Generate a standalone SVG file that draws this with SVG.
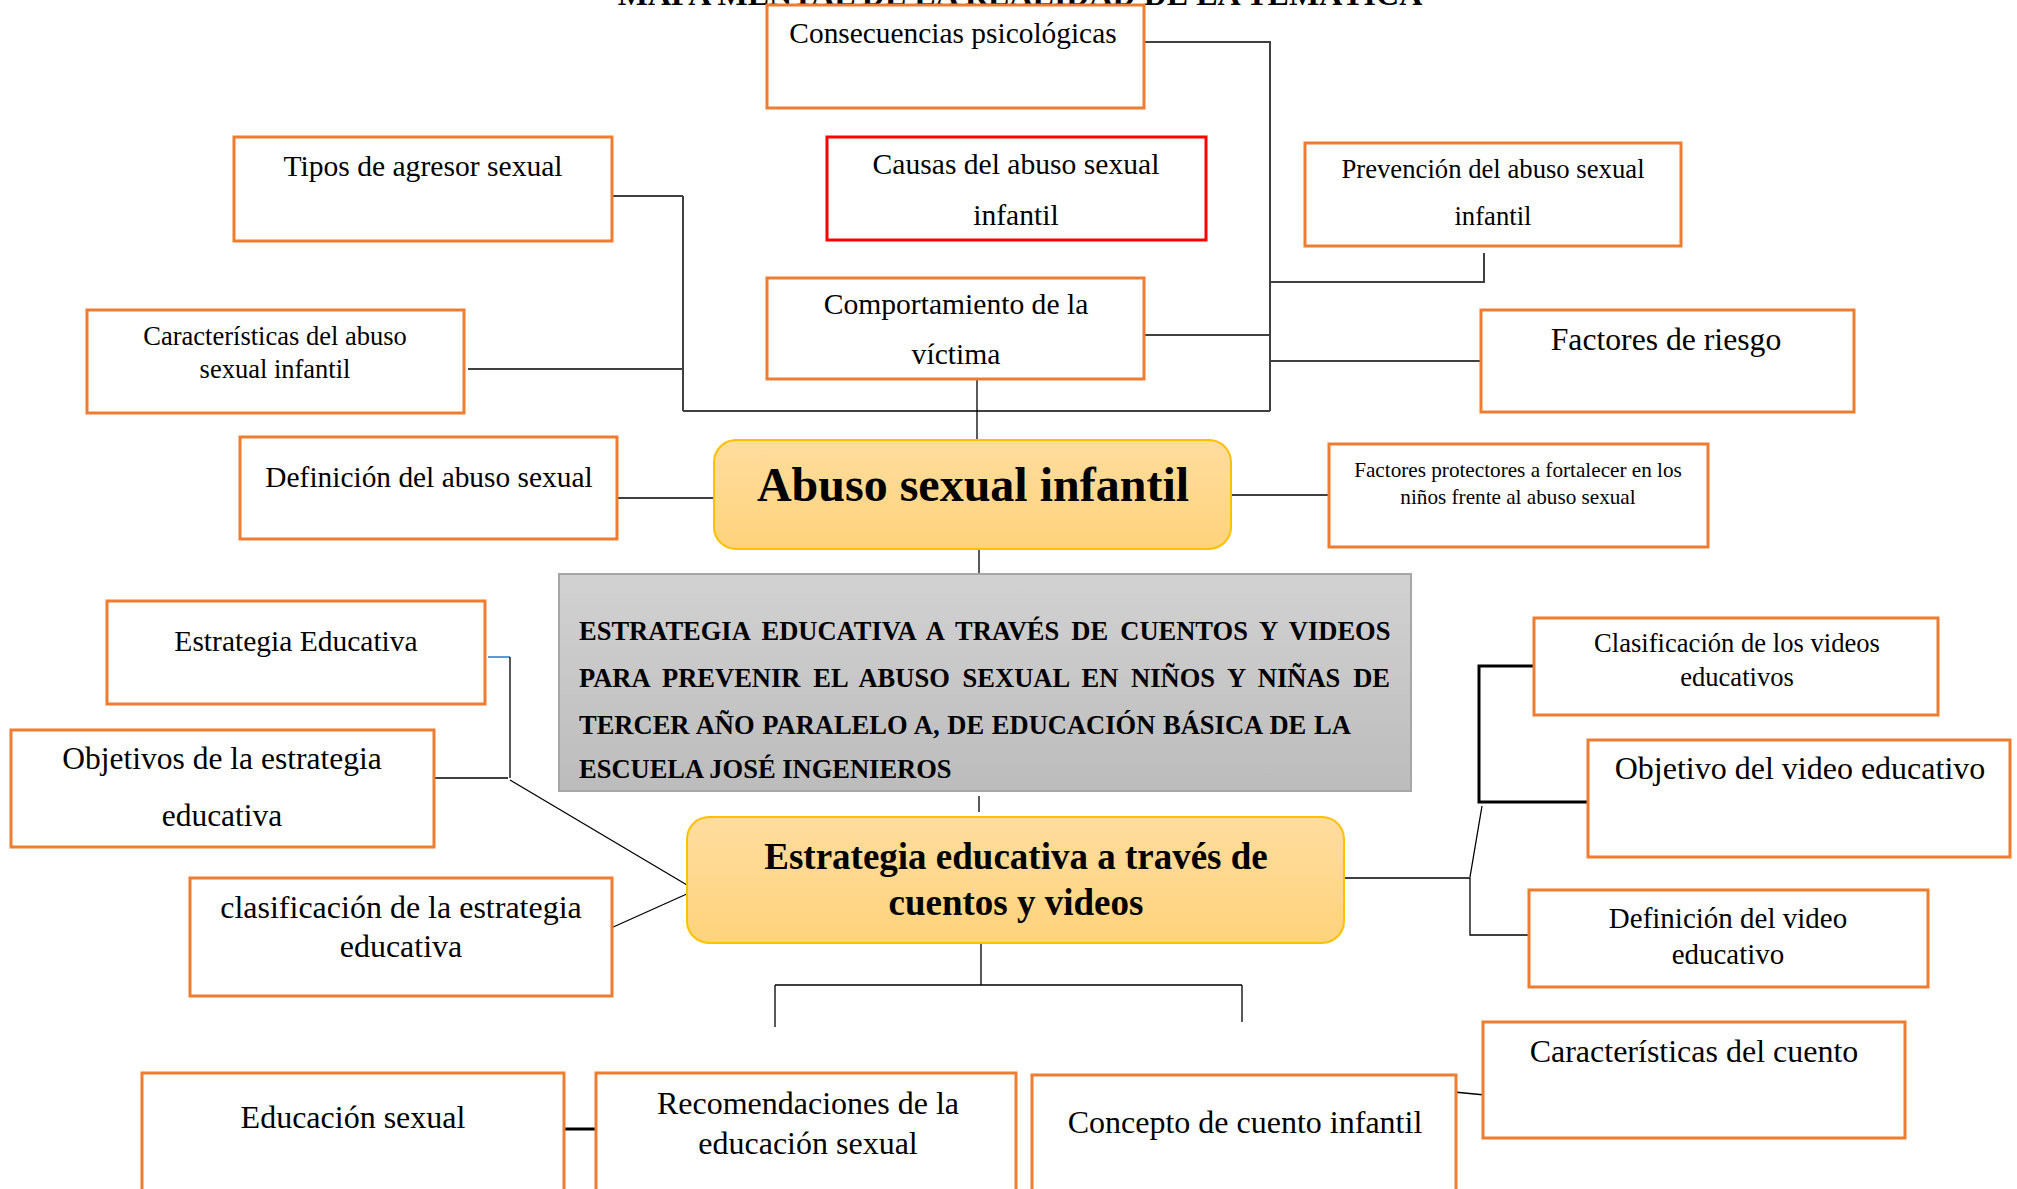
<svg xmlns="http://www.w3.org/2000/svg" width="2017" height="1189" viewBox="0 0 2017 1189">
<defs>
<linearGradient id="gOr" x1="0" y1="0" x2="0" y2="1">
<stop offset="0" stop-color="#FFDD9E"/>
<stop offset="1" stop-color="#FFD37C"/>
</linearGradient>
<linearGradient id="gGr" x1="0" y1="0" x2="0" y2="1">
<stop offset="0" stop-color="#D2D2D2"/>
<stop offset="1" stop-color="#BCBCBC"/>
</linearGradient>
<style>
.box{fill:#FFFFFF;stroke:#ED7D31;stroke-width:3}
.red{fill:#FFFFFF;stroke:#FF0000;stroke-width:3}
.main{fill:url(#gOr);stroke:#FFC000;stroke-width:2}
.gray{fill:url(#gGr);stroke:#A6A6A6;stroke-width:2}
text{font-family:"Liberation Serif","Times New Roman",serif;fill:#000000}
.t{text-anchor:middle}
.b{font-weight:bold}
.ln{fill:none;stroke:#404040;stroke-width:2}
.thin{fill:none;stroke:#000000;stroke-width:1.3}
.thick{fill:none;stroke:#000000;stroke-width:3}
</style>
</defs>
<rect width="2017" height="1189" fill="#FFFFFF"/>

<g id="connectors">
<path class="ln" d="M612,196 H683 M683,196 V411 M468,369 H683 M683,411 H1270"/>
<path class="thin" d="M977,379 V440"/>
<path class="ln" d="M1144,42 H1270 V411 M1144,335 H1270 M1270,282 H1484 V253 M1270,361 H1481"/>
<path class="ln" d="M617,498 H714 M1231,495 H1329"/>
<path class="thin" d="M979,549 V574 M979,796 V812"/>
<path fill="none" stroke="#5B9BD5" stroke-width="2" d="M488,657 H510"/>
<path class="thin" d="M510,657 V778"/>
<path class="ln" d="M434,778 H508"/>
<path class="thin" d="M510,780 L687,885 M611,928 L689,893"/>
<path class="thin" d="M1344,878 H1470 V935 H1530 M1482,806 L1470,877"/>
<path class="thick" d="M1534,666 H1479 V802 H1588"/>
<path class="thin" d="M981,943 V985 M775,985 H1242 M775,985 V1027 M1242,985 V1022"/>
<path class="thick" d="M564,1129 H596"/>
<path class="thin" d="M1454,1092 L1485,1095"/>
</g>

<g id="title">
<text class="t b" x="1020" y="5" font-size="32">MAPA MENTAL DE LA REALIDAD DE LA TEMÁTICA</text>
</g>

<g id="n-consecuencias">
<rect class="box" x="767" y="5" width="377" height="103"/>
<text class="t" x="953" y="43" font-size="29.4">Consecuencias psicológicas</text>
</g>

<g id="n-tipos">
<rect class="box" x="234" y="137" width="378" height="104"/>
<text class="t" x="423" y="176" font-size="29.6">Tipos de agresor sexual</text>
</g>

<g id="n-causas">
<rect class="red" x="827" y="137" width="379" height="103"/>
<text class="t" x="1016" y="174" font-size="29.6">Causas del abuso sexual</text>
<text class="t" x="1016" y="225" font-size="29.6">infantil</text>
</g>

<g id="n-prevencion">
<rect class="box" x="1305" y="143" width="376" height="103"/>
<text class="t" x="1493" y="178" font-size="26.7">Prevención del abuso sexual</text>
<text class="t" x="1493" y="225" font-size="26.7">infantil</text>
</g>

<g id="n-comportamiento">
<rect class="box" x="767" y="278" width="377" height="101"/>
<text class="t" x="956" y="314" font-size="29.6">Comportamiento de la</text>
<text class="t" x="956" y="364" font-size="29.6">víctima</text>
</g>

<g id="n-caracteristicas-abuso">
<rect class="box" x="87" y="310" width="377" height="103"/>
<text class="t" x="275" y="345" font-size="26.5">Características del abuso</text>
<text class="t" x="275" y="378" font-size="26.5">sexual infantil</text>
</g>

<g id="n-factores-riesgo">
<rect class="box" x="1481" y="310" width="373" height="102"/>
<text class="t" x="1666" y="350" font-size="31.7">Factores de riesgo</text>
</g>

<g id="n-definicion-abuso">
<rect class="box" x="240" y="437" width="377" height="102"/>
<text class="t" x="429" y="487" font-size="29.4">Definición del abuso sexual</text>
</g>

<g id="n-abuso">
<rect class="main" x="714" y="440" width="517" height="109" rx="22" ry="22"/>
<text class="t b" x="973" y="501" font-size="48">Abuso sexual infantil</text>
</g>

<g id="n-factores-protectores">
<rect class="box" x="1329" y="444" width="379" height="103"/>
<text class="t" x="1518" y="477" font-size="21.2">Factores protectores a fortalecer en los</text>
<text class="t" x="1518" y="504" font-size="21.2">niños frente al abuso sexual</text>
</g>

<g id="n-titulo-estrategia">
<rect class="gray" x="559" y="574" width="852" height="217"/>
<text class="b" x="579" y="640" font-size="26.5" word-spacing="5.5">ESTRATEGIA EDUCATIVA A TRAVÉS DE CUENTOS Y VIDEOS</text>
<text class="b" x="579" y="687" font-size="26.5" word-spacing="6.2">PARA PREVENIR EL ABUSO SEXUAL EN NIÑOS Y NIÑAS DE</text>
<text class="b" x="579" y="734" font-size="26.5" word-spacing="1.1">TERCER AÑO PARALELO A, DE EDUCACIÓN BÁSICA DE LA</text>
<text class="b" x="579" y="778" font-size="26.5">ESCUELA JOSÉ INGENIEROS</text>
</g>

<g id="n-estrategia-educativa-def">
<rect class="box" x="107" y="601" width="378" height="103"/>
<text class="t" x="296" y="651" font-size="29.5">Estrategia Educativa</text>
</g>

<g id="n-objetivos-estrategia">
<rect class="box" x="11" y="730" width="423" height="117"/>
<text class="t" x="222" y="769" font-size="31.5">Objetivos de la estrategia</text>
<text class="t" x="222" y="826" font-size="31.5">educativa</text>
</g>

<g id="n-clasificacion-estrategia">
<rect class="box" x="190" y="878" width="422" height="118"/>
<text class="t" x="401" y="918" font-size="32">clasificación de la estrategia</text>
<text class="t" x="401" y="957" font-size="32">educativa</text>
</g>

<g id="n-estrategia">
<rect class="main" x="687" y="817" width="657" height="126" rx="22" ry="22"/>
<text class="t b" x="1016" y="869" font-size="37">Estrategia educativa a través de</text>
<text class="t b" x="1016" y="915" font-size="37">cuentos y videos</text>
</g>

<g id="n-clasificacion-videos">
<rect class="box" x="1534" y="618" width="404" height="97"/>
<text class="t" x="1737" y="652" font-size="26.6">Clasificación de los videos</text>
<text class="t" x="1737" y="686" font-size="26.6">educativos</text>
</g>

<g id="n-objetivo-video">
<rect class="box" x="1588" y="740" width="422" height="117"/>
<text class="t" x="1800" y="779" font-size="32">Objetivo del video educativo</text>
</g>

<g id="n-definicion-video">
<rect class="box" x="1529" y="890" width="399" height="97"/>
<text class="t" x="1728" y="928" font-size="29">Definición del video</text>
<text class="t" x="1728" y="964" font-size="29">educativo</text>
</g>

<g id="n-caracteristicas-cuento">
<rect class="box" x="1483" y="1022" width="422" height="116"/>
<text class="t" x="1694" y="1062" font-size="32">Características del cuento</text>
</g>

<g id="n-educacion-sexual">
<rect class="box" x="142" y="1073" width="422" height="140"/>
<text class="t" x="353" y="1128" font-size="32">Educación sexual</text>
</g>

<g id="n-recomendaciones">
<rect class="box" x="596" y="1073" width="420" height="140"/>
<text class="t" x="808" y="1114" font-size="32">Recomendaciones de la</text>
<text class="t" x="808" y="1154" font-size="32">educación sexual</text>
</g>

<g id="n-concepto-cuento">
<rect class="box" x="1032" y="1075" width="424" height="140"/>
<text class="t" x="1245" y="1133" font-size="32">Concepto de cuento infantil</text>
</g>
</svg>
